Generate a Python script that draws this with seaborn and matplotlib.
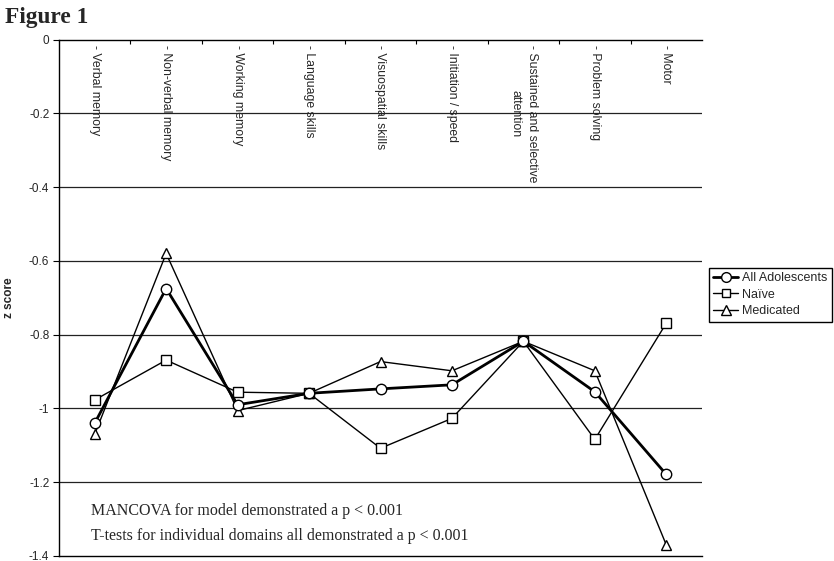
import matplotlib
matplotlib.use("Agg")
import matplotlib.pyplot as plt
import seaborn as sns
import pandas as pd
import numpy as np

categories = ["- Verbal memory", "- Non-verbal memory", "- Working memory",
              "- Language skills", "- Visuospatial skills", "- Initiation / speed",
              "- Sustained and selective\nattention", "- Problem solving", "- Motor"]
all_adol = [-1.04, -0.675, -0.99, -0.959, -0.947, -0.936, -0.818, -0.955, -1.179]
naive = [-0.977, -0.869, -0.956, -0.959, -1.108, -1.027, -0.818, -1.084, -0.769]
medicated = [-1.07, -0.58, -1.006, -0.959, -0.873, -0.898, -0.818, -0.898, -1.37]
series_names = ["All Adolescents", "Naïve", "Medicated"]
yticks = [0, -0.2, -0.4, -0.6, -0.8, -1, -1.2, -1.4]
ytick_labels = ["0", "-0.2", "-0.4", "-0.6", "-0.8", "-1", "-1.2", "-1.4"]

sns.set_style("white")
plt.rcParams["font.family"] = ["Liberation Sans", "DejaVu Sans"]

fig = plt.figure(figsize=(8.34, 5.61), dpi=100)
ax = fig.add_axes([59/834, 1-556/561, (702-59)/834, (556-39.5)/561])

x = np.arange(len(categories))
df = pd.DataFrame({
    "x": np.tile(x, 3),
    "z": all_adol + naive + medicated,
    "series": np.repeat(series_names, len(categories)),
})

for yv in yticks[1:-1]:
    ax.axhline(yv, color="#222222", lw=0.9, zorder=1)

styles = {
    "Naïve": dict(marker="s", lw=1.0, ms=6.5),
    "Medicated": dict(marker="^", lw=1.0, ms=7.5),
    "All Adolescents": dict(marker="o", lw=2.0, ms=7.5),
}
handles = {}
for name in ["Naïve", "Medicated", "All Adolescents"]:
    st = styles[name]
    sub = df[df["series"] == name]
    sns.lineplot(data=sub, x="x", y="z", ax=ax, color="black", lw=st["lw"],
                 marker=st["marker"], markersize=st["ms"], markerfacecolor="white",
                 markeredgecolor="black", markeredgewidth=1.0, zorder=3,
                 legend=False)
    handles[name] = plt.Line2D([], [], color="black", lw=st["lw"], marker=st["marker"],
                               markersize=st["ms"] - 0.5, markerfacecolor="white",
                               markeredgecolor="black")

ax.set_xlim(-0.5, len(categories) - 0.5)
ax.set_ylim(-1.4, 0)
ax.set_yticks(yticks)
ax.set_yticklabels(ytick_labels, fontsize=8.5)
ax.set_xticks(np.arange(0.5, len(categories) - 0.5, 1))
ax.set_xticklabels([])
ax.tick_params(axis="x", bottom=False, top=True, direction="in", length=3, width=0.8, color="black")
ax.tick_params(axis="y", left=True, direction="out", length=4, width=0.8, color="black", pad=3)
ax.set_xlabel("")
ax.set_ylabel("z score", fontsize=8.5, fontweight="bold", labelpad=10)
for side in ["left", "top", "bottom"]:
    ax.spines[side].set_visible(True)
    ax.spines[side].set_color("black")
    ax.spines[side].set_linewidth(1.0)
ax.spines["right"].set_visible(False)

for i, c in enumerate(categories):
    ax.text(i, -0.015, c, rotation=-90, ha="center", va="top", fontsize=8.8,
            multialignment="center", linespacing=1.5, zorder=4)

serif = ["Liberation Serif", "DejaVu Serif"]
ax.text(-0.05, -1.2 - 0.078, "MANCOVA for model demonstrated a p < 0.001",
        fontsize=11.5, family=serif, va="center")
ax.text(-0.05, -1.2 - 0.145, "T-tests for individual domains all demonstrated a p < 0.001",
        fontsize=11.5, family=serif, va="center")

fig.text(5/834, 1-17/561, "Figure 1", fontsize=16.8, fontweight="bold",
         family=serif, va="center", ha="left")

leg = fig.legend([handles[n] for n in series_names], series_names,
                 loc="upper left", bbox_to_anchor=(709/834, 1-268/561),
                 fontsize=9.0, frameon=True, fancybox=False, framealpha=1,
                 edgecolor="black", handlelength=2.0, handletextpad=0.3,
                 borderpad=0.35, labelspacing=0.35, borderaxespad=0)
leg.get_frame().set_linewidth(1.0)

fig.savefig("out.png", dpi=100)
